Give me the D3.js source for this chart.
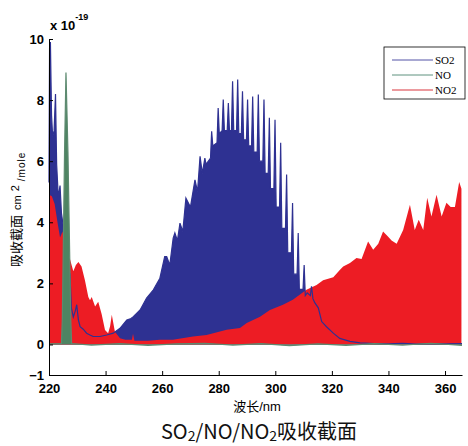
<!DOCTYPE html>
<html>
<head>
<meta charset="utf-8">
<script src="https://cdnjs.cloudflare.com/ajax/libs/d3/7.8.5/d3.min.js"></script>
<style>
    body { margin: 0; background: #fff; }
    svg { display: block; }
</style>
</head>
<body>
<svg id="chart" width="468" height="446"></svg>
<script>
// values, [wavelength nm, cross section x 1e-19]
var so2Data = [
    [220.0, 5.3], [220.2, 9.7], [220.5, 9.9], [220.9, 7.5], [221.3, 6.8], [221.8, 7.0],
    [222.3, 8.2], [222.7, 5.9], [223.3, 4.8], [223.9, 5.2], [224.4, 4.3], [225.0, 3.9],
    [225.6, 3.2], [226.3, 2.6], [226.8, 1.7], [227.4, 2.33], [227.9, 1.2], [228.6, 0.9],
    [229.3, 1.1], [229.8, 1.3], [230.4, 0.8], [231.0, 0.58], [232.1, 0.5], [233.3, 0.37],
    [234.5, 0.31], [235.6, 0.26], [238.0, 0.26], [240.4, 0.31], [242.7, 0.37], [245.1, 0.53],
    [247.5, 0.8], [249.0, 0.85], [249.8, 0.91], [252.2, 1.13], [254.5, 1.52], [256.9, 1.79],
    [259.2, 2.17], [260.9, 2.88], [261.6, 2.88], [262.7, 2.6], [263.9, 3.48], [264.5, 3.65],
    [265.4, 3.4], [266.3, 3.97], [267.3, 3.7], [268.4, 4.79], [270.0, 4.5], [271.6, 5.39],
    [272.5, 5.0], [273.4, 6.16], [274.2, 5.6], [275.1, 6.1], [275.5, 5.9], [277.1, 6.1],
    [277.5, 6.98], [277.9, 6.5], [279.4, 6.6], [279.8, 7.74], [280.2, 6.9], [281.2, 7.0],
    [281.6, 8.02], [282.0, 7.0], [283.0, 7.0], [283.4, 7.9], [283.8, 7.0], [284.5, 7.0],
    [284.9, 8.62], [285.3, 7.0], [286.3, 7.0], [286.7, 8.67], [287.1, 6.9], [288.0, 6.9],
    [288.4, 8.29], [288.8, 6.7], [289.8, 6.7], [290.2, 8.02], [290.6, 6.5], [291.6, 6.5],
    [292.0, 8.12], [292.4, 6.3], [293.6, 6.3], [294.0, 8.18], [294.4, 6.0], [295.6, 6.0],
    [296.0, 8.02], [296.4, 5.6], [297.5, 5.6], [297.9, 7.42], [298.3, 5.1], [299.5, 5.1],
    [299.9, 7.36], [300.3, 4.5], [301.5, 4.5], [301.9, 6.6], [302.3, 3.8], [303.6, 3.8],
    [304.0, 5.56], [304.4, 3.0], [305.7, 3.0], [306.1, 4.63], [306.5, 2.3], [307.7, 2.3],
    [308.1, 3.65], [308.5, 1.8], [309.8, 1.8], [310.2, 2.6], [310.6, 1.6], [311.3, 1.69],
    [312.4, 1.6], [312.8, 1.9], [313.3, 1.5], [314.0, 1.36], [315.2, 1.2], [316.4, 0.75],
    [318.1, 0.58], [320.5, 0.37], [322.8, 0.2], [326.4, 0.1], [330.0, 0.05], [335.0, 0.03],
    [340.0, 0.02], [345.0, 0.04], [350.0, 0.01], [355.0, 0.03], [360.0, 0.02], [366.0, 0.03]
];

var noData = [
    [220.0, 0.02], [224.4, 0.03], [224.7, 0.8], [225.5, 6.3], [226.0, 8.9], [226.7, 6.3],
    [227.7, 0.8], [228.0, 0.03], [235.0, -0.02], [245.0, 0.03], [255.0, -0.03], [265.0, 0.02],
    [275.0, 0.04], [285.0, -0.02], [295.0, 0.03], [305.0, -0.04], [315.0, 0.02], [325.0, -0.03],
    [335.0, 0.03], [345.0, -0.02], [355.0, 0.04], [366.0, -0.03]
];

var no2Data = [
    [220.0, 4.9], [221.0, 4.85], [222.0, 4.6], [223.0, 4.0], [223.9, 3.5], [224.8, 3.7],
    [225.7, 3.3], [226.5, 2.9], [227.4, 2.8], [228.6, 2.4], [229.5, 2.6], [230.4, 2.7],
    [231.5, 2.55], [232.7, 2.1], [233.9, 1.55], [234.5, 1.45], [235.1, 1.55], [236.3, 1.24],
    [237.4, 1.4], [238.6, 1.0], [239.8, 0.47], [240.9, 0.37], [241.6, 0.6], [242.2, 0.97],
    [243.3, 0.42], [245.1, 0.2], [247.0, 0.15], [249.3, 0.15], [249.7, 0.35], [250.2, 0.12],
    [255.0, 0.12], [259.2, 0.15], [263.8, 0.15], [270.9, 0.26], [275.7, 0.31], [282.8, 0.48],
    [287.5, 0.54], [289.9, 0.7], [294.6, 0.91], [298.1, 1.13], [302.7, 1.3], [306.2, 1.46],
    [311.0, 1.79], [314.6, 1.95], [316.9, 2.1], [320.5, 2.2], [322.8, 2.44], [324.0, 2.55],
    [326.4, 2.67], [328.7, 2.83], [330.5, 2.8], [332.8, 3.37], [334.6, 3.1], [336.4, 3.3],
    [338.1, 3.7], [339.9, 3.53], [341.1, 3.4], [342.9, 3.3], [345.2, 3.75], [347.6, 4.57],
    [349.3, 3.75], [350.7, 4.08], [352.3, 3.75], [353.7, 4.8], [355.2, 4.19], [357.0, 4.9],
    [358.8, 4.19], [360.5, 4.64], [362.0, 4.5], [363.5, 4.5], [365.0, 5.32], [365.8, 5.1]
];

var xTicks = [220, 240, 260, 280, 300, 320, 340, 360];
var yTicks = [-1, 0, 2, 4, 6, 8, 10];
var legendNames = ["SO2", "NO", "NO2"];
var legendColors = ["#5252a6", "#5f927f", "#d9343c"];

var svg = d3.select("#chart");

var x = d3.scaleLinear().domain([220, 366]).range([49, 462]);
var y = d3.scaleLinear().domain([-1, 10]).range([375, 39]);

var area = d3.area()
    .x(function (d) { return x(d[0]); })
    .y0(y(0))
    .y1(function (d) { return y(d[1]); });

var line = d3.line()
    .x(function (d) { return x(d[0]); })
    .y(function (d) { return y(d[1]); });

// SO2 fill, then NO2 on top, then the SO2 outline over it, NO last
svg.append("path").datum(so2Data)
    .attr("d", area)
    .attr("fill", "#2e3192");

svg.append("path").datum(no2Data)
    .attr("d", area)
    .attr("fill", "#ed1c24");

svg.append("path").datum(so2Data)
    .attr("d", line)
    .attr("fill", "none")
    .attr("stroke", "#2e3192")
    .attr("stroke-width", 1.2);

svg.append("path").datum(noData)
    .attr("d", area)
    .attr("fill", "#4e8462");

svg.append("path").datum(noData)
    .attr("d", line)
    .attr("fill", "none")
    .attr("stroke", "#5d8a70")
    .attr("stroke-width", 1.2);

// axes
var xAxis = svg.append("g")
    .attr("transform", "translate(0," + y(-1) + ")")
    .call(d3.axisBottom(x).tickValues(xTicks).tickSize(-4).tickSizeOuter(0).tickPadding(9));

var yAxis = svg.append("g")
    .attr("transform", "translate(" + x(220) + ",0)")
    .call(d3.axisLeft(y).tickValues(yTicks).tickSize(-4).tickSizeOuter(0).tickPadding(5));

[xAxis, yAxis].forEach(function (g) {
    g.selectAll("text")
        .attr("font-family", "Liberation Sans, Arial, sans-serif")
        .attr("font-weight", "bold")
        .attr("font-size", 13)
        .attr("fill", "#000");
    g.selectAll("line").attr("stroke", "#000");
    g.select(".domain").attr("stroke", "#000");
});

// exponent
var expo = svg.append("text")
    .attr("x", 50)
    .attr("y", 30)
    .attr("font-family", "Liberation Sans, Arial, sans-serif")
    .attr("font-weight", "bold")
    .attr("font-size", 13)
    .attr("fill", "#000");
expo.append("tspan").text("x 10");
expo.append("tspan").attr("font-size", 9).attr("dy", -10).text("-19");

// y label
var ylab = svg.append("text")
    .attr("transform", "translate(21,267) rotate(-90)")
    .attr("font-family", "Liberation Sans, Arial, sans-serif")
    .attr("fill", "#000");
ylab.append("tspan").attr("font-family", "Noto Sans CJK SC").attr("font-size", 13).text("吸收截面");
ylab.append("tspan").attr("font-size", 11).attr("dx", 5).text("cm");
ylab.append("tspan").attr("font-size", 11).attr("dx", 4).attr("dy", -2).text("2");
ylab.append("tspan").attr("font-size", 10).attr("dx", 4).attr("dy", 6)
    .attr("letter-spacing", 1).text("/mole");

// x label
var xlab = svg.append("text")
    .attr("x", 257)
    .attr("y", 411)
    .attr("text-anchor", "middle")
    .attr("fill", "#000")
    .attr("font-size", 13);
xlab.append("tspan").attr("font-family", "Noto Sans CJK SC").text("波长");
xlab.append("tspan").attr("font-family", "Liberation Sans, Arial, sans-serif").text("/nm");

// title
var title = svg.append("text")
    .attr("x", 259)
    .attr("y", 439)
    .attr("text-anchor", "middle")
    .attr("fill", "#111")
    .attr("font-family", "Noto Sans CJK SC")
    .attr("font-size", 20);
title.append("tspan").text("SO");
title.append("tspan").attr("font-size", 14).attr("dy", 2).text("2");
title.append("tspan").attr("dy", -2).text("/NO/NO");
title.append("tspan").attr("font-size", 14).attr("dy", 2).text("2");
title.append("tspan").attr("dy", -2).text("吸收截面");

// legend
var legend = svg.append("g").attr("transform", "translate(384,47)");
legend.append("rect")
    .attr("width", 81)
    .attr("height", 52)
    .attr("fill", "#fff")
    .attr("stroke", "#000")
    .attr("stroke-width", 0.8);

legendNames.forEach(function (name, i) {
    var ly = 13 + i * 15;
    legend.append("line")
        .attr("x1", 8).attr("x2", 49)
        .attr("y1", ly).attr("y2", ly)
        .attr("stroke", legendColors[i])
        .attr("stroke-width", 1);
    legend.append("text")
        .attr("x", 51)
        .attr("y", ly + 4)
        .attr("font-family", "Liberation Serif, Times New Roman, serif")
        .attr("font-size", 11)
        .attr("fill", "#000")
        .text(name);
});
</script>
</body>
</html>
